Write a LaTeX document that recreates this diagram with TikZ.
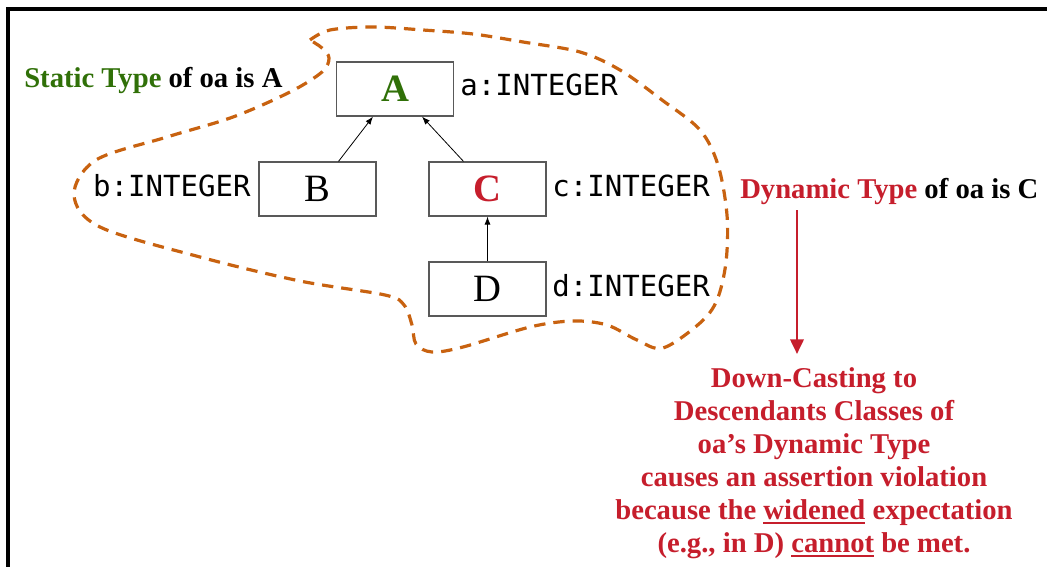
\documentclass[tikz,border=0pt]{standalone}
\usepackage{fontspec}
\setmainfont{Liberation Serif}
\setmonofont{DejaVu Sans Mono}
\usetikzlibrary{arrows.meta}
\definecolor{statgreen}{RGB}{48,112,8}
\definecolor{dynred}{RGB}{198,30,44}
\definecolor{blobline}{RGB}{200,98,16}
% thick underline in the current colour
\newcommand{\redul}[1]{\setbox0\hbox{#1}\rlap{\rule[-4pt]{\wd0}{1.5pt}}\box0\relax}

\begin{document}
\begin{tikzpicture}[x=0.75pt,y=-0.75pt]
\tikzset{classe/.style={draw=black!65, line width=0.9pt, minimum width=87.75pt, minimum height=40.5pt, inner sep=0pt, font=\fontsize{29}{30}\selectfont}}
\tikzset{attr/.style={inner sep=0pt, anchor=base west, font=\fontsize{21.8}{24}\ttfamily}}
\tikzset{legende/.style={inner sep=0pt, anchor=base west, font=\fontsize{21.5}{24}\selectfont\bfseries}}
\tikzset{herite/.style={-{Latex[length=6pt,width=4.5pt]}, line width=0.6pt}}
\useasboundingbox (0,0) rectangle (1047,567);
\draw[line width=3pt] (8,567) -- (8,9) -- (1047,9);
% the classes
\node[classe] (A) at (395,89) {\textcolor{statgreen}{\bfseries A}};
\node[classe] (B) at (317.5,189) {B};
\node[classe] (C) at (487.5,189) {\textcolor{dynred}{\bfseries C}};
\node[classe] (D) at (487.5,289) {D};
\draw[herite] ([shift={(21,0)}]B.north) -- ([shift={(-22,0)}]A.south);
\draw[herite] ([shift={(-24,0)}]C.north) -- ([shift={(27,0)}]A.south);
\draw[herite] (D.north) -- (C.south);
% attributes
\node[attr] (aA) at (460,96) {a:INTEGER};
\node[attr, anchor=base east] (bB) at (251,196) {b:INTEGER};
\node[attr] (cC) at (552,196) {c:INTEGER};
\node[attr] (dD) at (552,296) {d:INTEGER};
% the static type region, open at the little hook top left
\draw[blobline, line width=2.4pt, dash pattern=on 8.5pt off 6pt] plot[smooth, tension=0.55] coordinates {
  (310,40) (330,30) (373,27) (423,30) (473,34) (523,42) (580,52) (620,70) (662,100) (700,130)
  (718,165) (727,215) (726,262) (717,300) (700,323) (663,348) (637,340) (607,325)
  (573,321) (530,327) (463,347) (432,352) (416,344) (412,325) (404,305) (385,295)
  (300,281) (200,257) (100,227) (74,195) (96,160) (167,137) (233,117) (290,92)
  (322,72) (329,58) (322,48) (310,40)};
% labels
\node[legende] (stat) at (24,88) {\textcolor{statgreen}{Static Type} of oa is A};
\node[legende] (dyn) at (740,199) {\textcolor{dynred}{Dynamic Type} of oa is C};
\node[inner sep=0pt, anchor=north, align=center, text=dynred, font=\fontsize{21.5}{24.75}\selectfont\bfseries] (cast) at (814,367)
  {Down-Casting to\\ Descendants Classes of\\ oa’s Dynamic Type\\ causes an assertion violation\\
   because the \redul{widened} expectation\\ (e.g., in D) \redul{cannot} be met.};
\coordinate (arrTop) at (797,210);
\coordinate (arrBot) at (797,354);
\draw[dynred, line width=2pt, -{Triangle[length=11pt,width=10pt]}] (arrTop) -- (arrBot);
\end{tikzpicture}
\end{document}
